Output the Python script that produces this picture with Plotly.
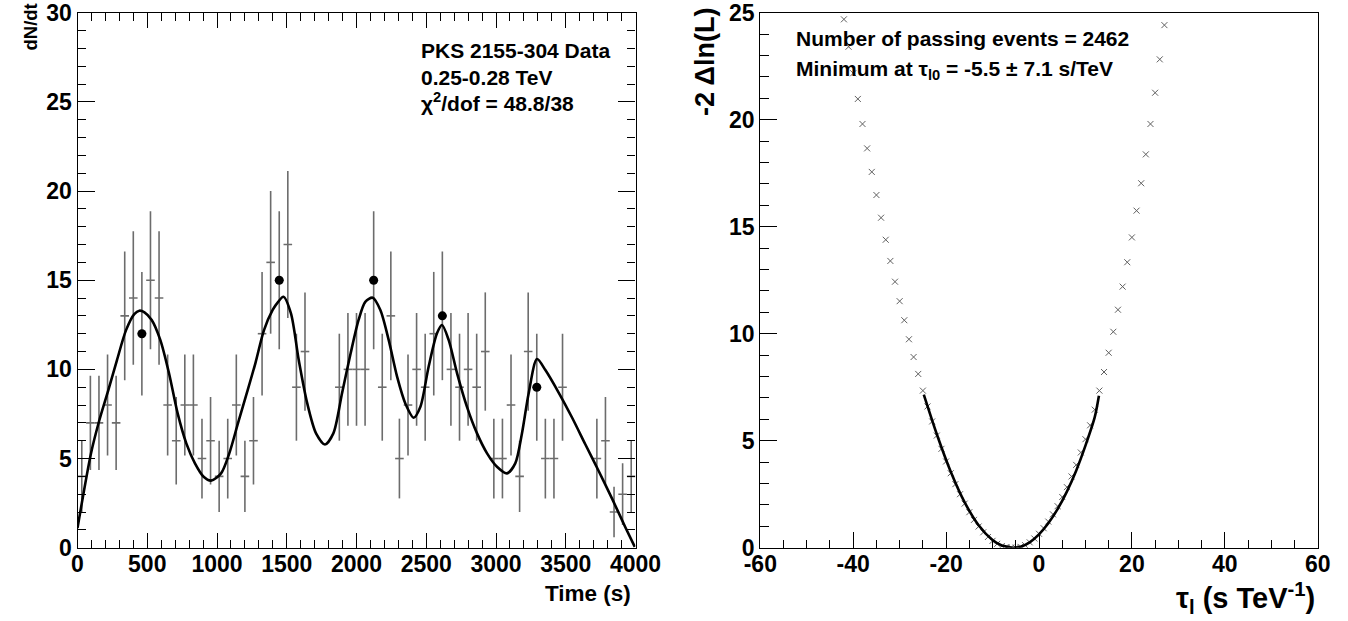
import math
import plotly.graph_objects as go

W, H = 1348, 621

# ---------------- left panel data (light curve) ----------------
T_MIN, T_MAX = 0.0, 4000.0
N_BINS = 65
counts = [4, 7, 7, 8, 7, 13, 14, 12, 15, 14, 8, 6, 8, 8, 5, 6, 4, 5, 8, 4,
          6, 12, 16, 15, 17, 9, 11, None, None, None,
          9, 10, 10, 10, 15, 9, 13, 5, 8, 10, 9, 12, 13, 10, 9, 10, 9, 11, 5, 5,
          8, 4, 11, 9, 5, 5, 9, None, None, None, 5, 6, 2, 3, 4]
highlighted_bins = [7, 23, 34, 42, 53]

fit_time = [0, 97, 157, 221, 283, 348, 407, 443, 480, 532, 594, 656, 718, 780, 842,
            904, 957, 1029, 1088, 1150, 1213, 1275, 1337, 1399, 1440, 1476, 1530,
            1586, 1647, 1710, 1774, 1834, 1896, 1958, 2015, 2063, 2116, 2171, 2231,
            2291, 2350, 2410, 2458, 2517, 2577, 2613, 2661, 2721, 2792, 2864, 2936,
            3007, 3079, 3138, 3186, 3234, 3294, 3354, 3449, 3545, 3640, 3736, 3832,
            3927, 3995]
fit_rate = [1.1, 5.3, 7.16, 8.84, 10.52, 12.2, 13.1, 13.29, 13.2, 12.77, 11.64, 9.78,
            7.53, 5.85, 4.73, 3.98, 3.76, 4.17, 5.29, 6.97, 8.65, 10.34, 12.2, 13.33,
            13.8, 14.07, 13.14, 10.52, 8.09, 6.41, 5.79, 6.41, 8.65, 10.9, 12.77, 13.79,
            14.02, 13.33, 11.64, 9.59, 8.09, 7.29, 7.9, 10.15, 12.02, 12.49, 11.64, 9.78,
            7.9, 6.41, 5.29, 4.54, 4.17, 4.73, 6.41, 8.65, 10.58, 9.96, 8.7, 7.3, 5.8,
            4.3, 2.75, 1.15, 0.05]

left_xticks = [0, 500, 1000, 1500, 2000, 2500, 3000, 3500, 4000]
left_yticks = [0, 5, 10, 15, 20, 25, 30]

# ---------------- right panel data (likelihood scan) ----------------
tau_scan = list(range(-42, 28))
m2dlnl = [24.69, 23.41, 22.17, 20.97, 19.80, 18.66, 17.56, 16.48, 15.42, 14.39,
          13.40, 12.43, 11.52, 10.63, 9.74, 8.91, 8.12, 7.34, 6.60, 5.90,
          5.24, 4.62, 4.03, 3.48, 2.97, 2.50, 2.06, 1.66, 1.30, 0.99,
          0.72, 0.50, 0.32, 0.18, 0.08, 0.03, 0.01, 0.00, 0.04, 0.12,
          0.25, 0.43, 0.65, 0.91, 1.22, 1.56, 1.94, 2.37, 2.83, 3.33,
          3.87, 4.45, 5.07, 5.72, 6.45, 7.34, 8.21, 9.11, 10.09, 11.12,
          12.20, 13.34, 14.50, 15.75, 17.03, 18.38, 19.80, 21.26, 22.82, 24.42]
fit_tau = [-24.8, -22, -19, -16, -13, -10, -8, -6, -5.5, -4, -2, 0, 2, 4, 6, 8, 10, 12, 12.9]
fit_m2dlnl = [7.15, 5.3, 3.55, 2.12, 1.05, 0.36, 0.1, 0.01, 0.0, 0.04, 0.25, 0.62, 1.14,
              1.8, 2.62, 3.6, 4.77, 6.1, 7.1]

right_xticks = [-60, -40, -20, 0, 20, 40, 60]
right_xticklabels = ["-60", "-40", "-20", "0", "20", "40", "60"]
right_yticks = [0, 5, 10, 15, 20, 25]

# ---------------- geometry ----------------
L_X0, L_X1 = 77.5, 635.5
R_X0, R_X1 = 760.3, 1317.7
Y_TOP, Y_BOT = 12.7, 547.7


def fx(px):
    return px / W


def fy(py):
    return 1 - py / H


FONT = "Liberation Sans"
ERR_COLOR = "#6c6c6c"

bin_w = (T_MAX - T_MIN) / N_BINS
bin_x, bin_y, bin_e = [], [], []
for k, c in enumerate(counts):
    if c is None:
        continue
    bin_x.append(T_MIN + bin_w * (k + 0.5))
    bin_y.append(c)
    bin_e.append(math.sqrt(c))
dot_x = [T_MIN + bin_w * (k + 0.5) for k in highlighted_bins]
dot_y = [counts[k] for k in highlighted_bins]

fig = go.Figure()

fig.add_trace(go.Scatter(
    x=bin_x, y=bin_y, mode="markers", xaxis="x", yaxis="y",
    marker=dict(size=1, color=ERR_COLOR, opacity=0),
    error_y=dict(type="data", array=bin_e, visible=True, width=0,
                 thickness=1.6, color=ERR_COLOR),
    error_x=dict(type="constant", value=bin_w / 2, visible=True, width=0,
                 thickness=1.6, color=ERR_COLOR),
    showlegend=False, hoverinfo="skip"))

fig.add_trace(go.Scatter(
    x=fit_time, y=fit_rate, mode="lines", xaxis="x", yaxis="y",
    line=dict(color="black", width=2.6, shape="spline", smoothing=0.8),
    showlegend=False, hoverinfo="skip"))

fig.add_trace(go.Scatter(
    x=dot_x, y=dot_y, mode="markers", xaxis="x", yaxis="y",
    marker=dict(size=9, color="black"),
    showlegend=False, hoverinfo="skip"))

fig.add_trace(go.Scatter(
    x=tau_scan, y=m2dlnl, mode="markers", xaxis="x2", yaxis="y2",
    marker=dict(symbol="x-thin-open", size=6, color="#606060",
                line=dict(width=1, color="#606060")),
    showlegend=False, hoverinfo="skip"))

fig.add_trace(go.Scatter(
    x=fit_tau, y=fit_m2dlnl, mode="lines", xaxis="x2", yaxis="y2",
    line=dict(color="black", width=2.6, shape="spline", smoothing=0.8),
    showlegend=False, hoverinfo="skip"))

tickfont = dict(family=FONT, size=23, color="black", weight="bold")
common = dict(showgrid=False, zeroline=False, showline=True, linecolor="black",
              linewidth=1.2, ticks="inside", tickcolor="black", tickwidth=1.2,
              tickfont=tickfont, automargin=False, ticklabeloverflow="allow")

fig.update_layout(
    template="none",
    width=W, height=H, autosize=False,
    margin=dict(l=0, r=0, t=0, b=0, pad=0),
    paper_bgcolor="white", plot_bgcolor="white",
    xaxis=dict(domain=[fx(L_X0), fx(L_X1)], range=[T_MIN, T_MAX], anchor="y",
               tickmode="array", tickvals=left_xticks, ticklen=15, mirror="ticks",
               minor=dict(ticks="inside", ticklen=8, dtick=100, tickcolor="black",
                          tickwidth=1.2),
               ticklabelstandoff=-4, **common),
    yaxis=dict(domain=[fy(Y_BOT), fy(Y_TOP)], range=[0, 30], anchor="x",
               tickmode="array", tickvals=left_yticks, ticklen=17, mirror="ticks",
               minor=dict(ticks="inside", ticklen=8, dtick=1, tickcolor="black",
                          tickwidth=1.2),
               ticklabelstandoff=0, **common),
    xaxis2=dict(domain=[fx(R_X0), fx(R_X1)], range=[-60, 60], anchor="y2",
                tickmode="array", tickvals=right_xticks, ticktext=right_xticklabels,
                ticklen=16, mirror=True,
                minor=dict(ticks="inside", ticklen=8, dtick=5, tickcolor="black",
                           tickwidth=1.2),
                ticklabelstandoff=-4, **common),
    yaxis2=dict(domain=[fy(Y_BOT), fy(Y_TOP)], range=[0, 25], anchor="x2",
                tickmode="array", tickvals=right_yticks, ticklen=17, mirror=True,
                minor=dict(ticks="inside", ticklen=9, dtick=1, tickcolor="black",
                           tickwidth=1.2),
                ticklabelstandoff=0, **common),
)

def ann(text, x, y, size, xanchor="left", yanchor="middle", angle=0):
    fig.add_annotation(text=text, x=fx(x), y=fy(y), xref="paper", yref="paper",
                       xanchor=xanchor, yanchor=yanchor, textangle=angle,
                       showarrow=False,
                       font=dict(family=FONT, size=size, color="black", weight="bold"))

# left panel texts
ann("PKS 2155-304 Data", 419, 50, 21)
ann("0.25-0.28 TeV", 419, 77, 21)
ann("\u03c7<sup>2</sup>/dof = 48.8/38", 419, 102, 21)
ann("Time (s)", 633, 593, 22.5, xanchor="right")
ann("dN/dt", 30, 2, 18.5, xanchor="center", yanchor="top", angle=-90)

# right panel texts
ann("Number of passing events = 2462", 794, 38, 21)
ann("Minimum at \u03c4<sub>l0</sub> = -5.5 \u00b1 7.1 s/TeV", 794, 70, 21)
ann("\u03c4<sub>l</sub> (s TeV<sup>-1</sup>)", 1317, 598, 29, xanchor="right")
ann("-2 \u0394ln(L)", 705, 6, 27, xanchor="center", yanchor="top", angle=-90)

fig.write_html("out.html",
               config={"displayModeBar": False},
               post_script="document.body.style.margin='0px';"
                           "document.body.style.overflow='hidden';")
